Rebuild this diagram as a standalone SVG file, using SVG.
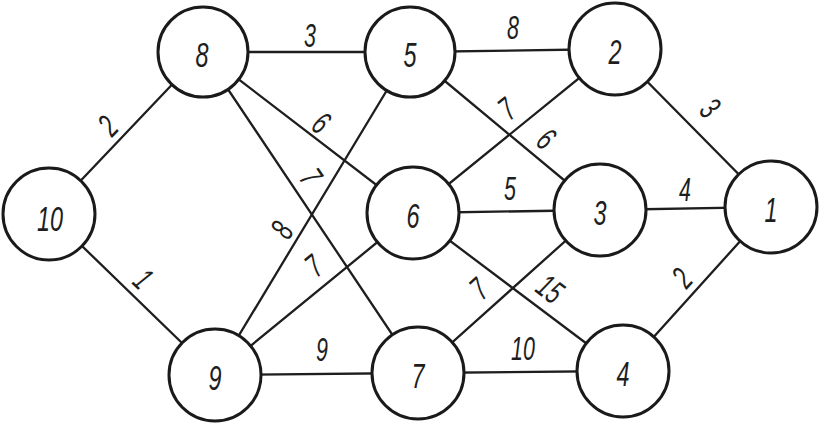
<svg xmlns="http://www.w3.org/2000/svg" width="822" height="426" viewBox="0 0 822 426">
<style>
.bg{fill:#ffffff}
.edge{stroke:#1e1e1e;stroke-width:2.3;fill:none;stroke-linecap:round}
.node circle{fill:#ffffff;stroke:#1a1a1a;stroke-width:3}
.nl{font-family:"Liberation Sans",Arial,sans-serif;font-style:italic;font-size:36px;fill:#1e1e1e;text-anchor:middle;dominant-baseline:central}
.el{font-family:"Liberation Sans",Arial,sans-serif;font-style:italic;font-size:33px;fill:#1e1e1e;text-anchor:middle;dominant-baseline:central}
</style>
<rect class="bg" x="0" y="0" width="822" height="426"/>
<g id="connectors">
<line class="edge" x1="49" y1="214" x2="203" y2="52"/>
<line class="edge" x1="49" y1="214" x2="215" y2="375"/>
<line class="edge" x1="203" y1="52" x2="410" y2="52"/>
<line class="edge" x1="203" y1="52" x2="413" y2="213"/>
<line class="edge" x1="203" y1="52" x2="418" y2="373"/>
<line class="edge" x1="410" y1="52" x2="615" y2="49"/>
<line class="edge" x1="410" y1="52" x2="600" y2="210"/>
<line class="edge" x1="410" y1="52" x2="215" y2="375"/>
<line class="edge" x1="615" y1="49" x2="413" y2="213"/>
<line class="edge" x1="615" y1="49" x2="771" y2="207"/>
<line class="edge" x1="413" y1="213" x2="600" y2="210"/>
<line class="edge" x1="413" y1="213" x2="215" y2="375"/>
<line class="edge" x1="413" y1="213" x2="623" y2="371"/>
<line class="edge" x1="600" y1="210" x2="771" y2="207"/>
<line class="edge" x1="600" y1="210" x2="418" y2="373"/>
<line class="edge" x1="215" y1="375" x2="418" y2="373"/>
<line class="edge" x1="418" y1="373" x2="623" y2="371"/>
<line class="edge" x1="623" y1="371" x2="771" y2="207"/>
<text class="el" transform="translate(108,126) rotate(-46.5) scale(0.65,1)">2</text>
<text class="el" transform="translate(143,279) rotate(44) scale(0.65,1)">1</text>
<text class="el" transform="translate(310,36) scale(0.65,1)">3</text>
<text class="el" transform="translate(321,123) rotate(37.5) scale(0.65,1)">6</text>
<text class="el" transform="translate(311,177) rotate(56) scale(0.65,1)">7</text>
<text class="el" transform="translate(513,28) scale(0.65,1)">8</text>
<text class="el" transform="translate(507,109) rotate(-39) scale(0.65,1)">7</text>
<text class="el" transform="translate(546,139) rotate(39.7) scale(0.65,1)">6</text>
<text class="el" transform="translate(710,108) rotate(45) scale(0.65,1)">3</text>
<text class="el" transform="translate(510,189) scale(0.65,1)">5</text>
<text class="el" transform="translate(685,190) scale(0.65,1)">4</text>
<text class="el" transform="translate(282,230) rotate(-58.9) scale(0.65,1)">8</text>
<text class="el" transform="translate(314,266) rotate(-39.3) scale(0.65,1)">7</text>
<text class="el" transform="translate(550,289) rotate(37) scale(0.65,1)">15</text>
<text class="el" transform="translate(479,289) rotate(-41.8) scale(0.65,1)">7</text>
<text class="el" transform="translate(322,350) scale(0.65,1)">9</text>
<text class="el" transform="translate(523,349) scale(0.65,1)">10</text>
<text class="el" transform="translate(682,278) rotate(-48) scale(0.65,1)">2</text>
</g>
<g id="node-10" class="node"><circle cx="49" cy="214" r="46"/><text class="nl" transform="translate(50,219) scale(0.65,1)">10</text></g>
<g id="node-8" class="node"><circle cx="203" cy="52" r="45"/><text class="nl" transform="translate(202,55) scale(0.65,1)">8</text></g>
<g id="node-5" class="node"><circle cx="410" cy="52" r="45"/><text class="nl" transform="translate(410,55) scale(0.65,1)">5</text></g>
<g id="node-2" class="node"><circle cx="615" cy="49" r="46"/><text class="nl" transform="translate(615,52) scale(0.65,1)">2</text></g>
<g id="node-6" class="node"><circle cx="413" cy="213" r="46"/><text class="nl" transform="translate(413,216) scale(0.65,1)">6</text></g>
<g id="node-3" class="node"><circle cx="600" cy="210" r="46"/><text class="nl" transform="translate(600,213) scale(0.65,1)">3</text></g>
<g id="node-1" class="node"><circle cx="771" cy="207" r="46"/><text class="nl" transform="translate(771,210) scale(0.65,1)">1</text></g>
<g id="node-9" class="node"><circle cx="215" cy="375" r="46"/><text class="nl" transform="translate(215,378) scale(0.65,1)">9</text></g>
<g id="node-7" class="node"><circle cx="418" cy="373" r="46"/><text class="nl" transform="translate(418,376) scale(0.65,1)">7</text></g>
<g id="node-4" class="node"><circle cx="623" cy="371" r="46"/><text class="nl" transform="translate(623,374) scale(0.65,1)">4</text></g>
</svg>
